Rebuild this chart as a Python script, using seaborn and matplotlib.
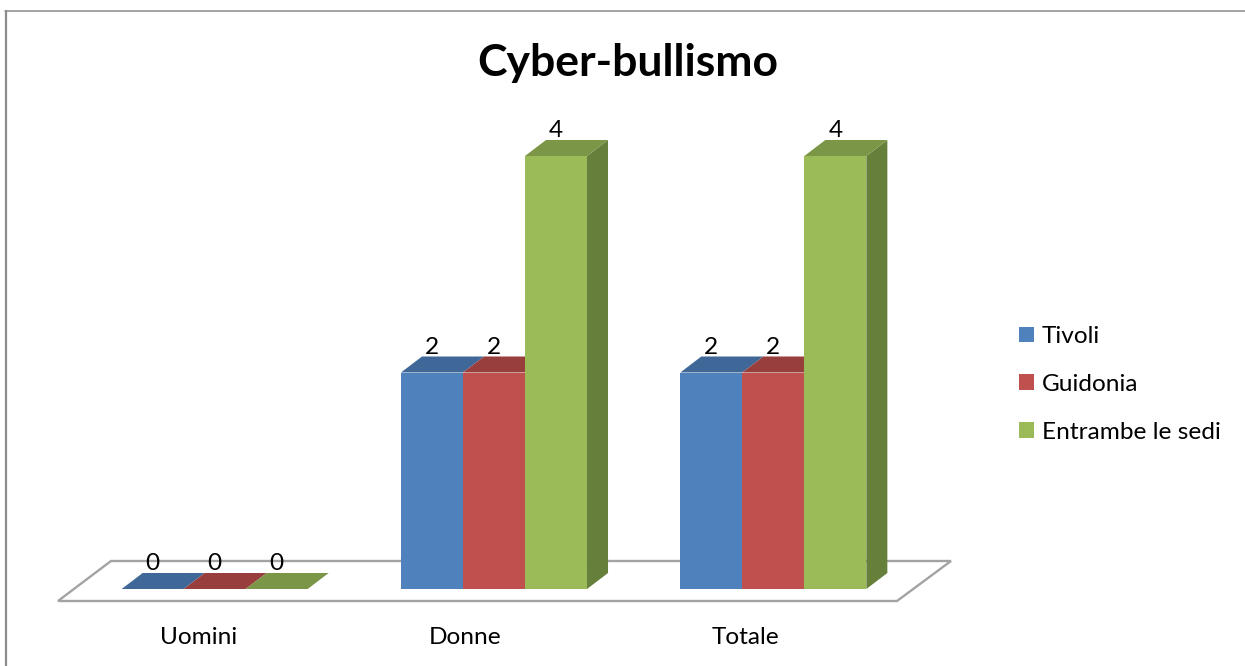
import matplotlib
matplotlib.use("Agg")
import matplotlib.pyplot as plt
from matplotlib.patches import Polygon
from matplotlib.lines import Line2D
import pandas as pd
import seaborn as sns

categories = ["Uomini", "Donne", "Totale"]
sedi = ["Tivoli", "Guidonia", "Entrambe le sedi"]
tivoli = [0, 2, 2]
guidonia = [0, 2, 2]
entrambe = [0, 4, 4]

front_colors = ["#4F81BD", "#C0504D", "#9BBB59"]
top_colors = ["#3F6797", "#983F3D", "#7B9646"]
side_colors = ["#35567E", "#7F3533", "#667F3B"]
tick_shift = [-16, -29, -28]

W, H = 1245, 666
X_LEFT, X_RIGHT = 75.0, 913.0
Y_ZERO, Y_UNIT = 589.0, 108.25
YMAX = 4.4
FS = 17.6

sns.set_theme(style="white")
plt.rcParams["font.family"] = ["Lato", "DejaVu Sans"]

df = pd.DataFrame({
    "categoria": categories * 3,
    "sede": [s for s in sedi for _ in categories],
    "valore": tivoli + guidonia + entrambe,
})

fig = plt.figure(figsize=(W / 100, H / 100), dpi=100, facecolor="white")
ax = fig.add_axes([X_LEFT / W, 1 - Y_ZERO / H, (X_RIGHT - X_LEFT) / W, YMAX * Y_UNIT / H])

sns.barplot(data=df, x="categoria", y="valore", hue="sede", order=categories, hue_order=sedi,
            palette=front_colors, width=0.666, saturation=1, ax=ax, zorder=3, linewidth=0)
ax.set_xlim(-0.5, 2.5)
ax.set_ylim(0, YMAX)
ax.patch.set_visible(False)
for s in ax.spines.values():
    s.set_visible(False)
ax.set_xlabel("")
ax.set_ylabel("")
ax.set_yticks([])
ax.set_xticks([])

# pixel -> data, for the frame of the fake 3d floor
x_unit = (X_RIGHT - X_LEFT) / 3
def px(x, y):
    return (-0.5 + (x - X_LEFT) / x_unit, (Y_ZERO - y) / Y_UNIT)

floor = Polygon([px(58, 601), px(897, 601), px(951, 561), px(111, 561)], closed=True,
                facecolor="white", edgecolor="#A3A3A3", linewidth=1.7, clip_on=False, zorder=1)
ax.add_patch(floor)

# side and top faces from each seaborn bar
dx = 21 / x_unit
dy = 16 / Y_UNIT
for i, cont in enumerate(ax.containers):
    for bar in cont:
        x0 = bar.get_x()
        x1 = x0 + bar.get_width()
        h = bar.get_height()
        # inner sides are hidden behind the next bar anyway
        if i == len(ax.containers) - 1 and h > 0:
            ax.add_patch(Polygon([(x1, 0), (x1 + dx, dy), (x1 + dx, h + dy), (x1, h)], closed=True,
                                 facecolor=side_colors[i], edgecolor="none", clip_on=False, zorder=2))
        ax.add_patch(Polygon([(x0, h), (x1, h), (x1 + dx, h + dy), (x0 + dx, h + dy)], closed=True,
                             facecolor=top_colors[i], edgecolor="none", clip_on=False, zorder=2))
    ax.bar_label(cont, fmt="%d", padding=10.5, fontsize=FS, color="black", zorder=5, clip_on=False)

for i, c in enumerate(categories):
    ax.annotate(c, (i, 0), xytext=(tick_shift[i], -48), textcoords="offset pixels",
                ha="center", va="center", fontsize=FS, color="black", annotation_clip=False)

leg = ax.legend(loc="upper left", bbox_to_anchor=(1019 / W, 1 - 326 / H), bbox_transform=fig.transFigure,
                frameon=False, fontsize=FS, handlelength=0.615, handleheight=0.615, handletextpad=0.33,
                labelspacing=1.1, borderpad=0, borderaxespad=0)
for t in leg.get_texts():
    t.set_color("black")

fig.text(628 / W, 1 - 63 / H, "Cyber-bullismo", ha="center", va="center", fontsize=32,
         fontweight="bold", color="black")

# outer chart border, only top and left show in the crop
fig.add_artist(Line2D([6 / W, 6 / W], [0, 1 - 10.5 / H], color="#8C8C8C", linewidth=1.6))
fig.add_artist(Line2D([5 / W, 1], [1 - 10.5 / H, 1 - 10.5 / H], color="#8C8C8C", linewidth=1.1))

fig.savefig("out.png", dpi=100)
